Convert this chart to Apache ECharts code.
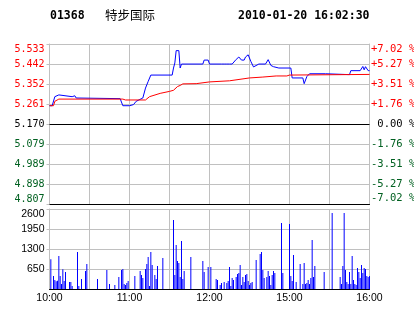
<!DOCTYPE html>
<html><head><meta charset="utf-8">
<script src="https://cdn.jsdelivr.net/npm/echarts@6/dist/echarts.min.js"></script>
<style>html,body{margin:0;padding:0;background:#fff}#c{width:414px;height:314px}</style>
</head><body><div id="c"></div>
<script>
const stockCode = '01368';
const stockName = '特步国际';
const stamp = '2010-01-20 16:02:30';
const prevClose = 5.170;
const priceMin = 4.807, priceMax = 5.533;
const priceTicks = ['4.807','4.898','4.989','5.079','5.170','5.261','5.352','5.442','5.533'];
const pctTicks = ['-7.02 %','-5.27 %','-3.51 %','-1.76 %',' 0.00 %','+1.76 %','+3.51 %','+5.27 %','+7.02 %'];
const volMax = 2600, volStep = 650;
const timeLabels = ['10:00','11:00','12:00','15:00','16:00'];
const gridTimes = ['10:30','11:00','11:30','12:00','12:30','15:00','15:30'];

const priceTimes = ['10:00','10:02','10:04','10:07','10:08','10:17','10:18','10:19','10:20','10:21','10:53','10:55','11:00','11:01','11:03','11:05','11:10','11:12','11:14','11:16','11:32','11:33','11:34','11:35','11:37','11:38','11:39','11:55','11:56','11:59','12:00','12:09','12:10','12:11','12:12','12:13','12:14','12:15','12:17','12:20','12:22','12:24','12:26','12:27','12:29','14:31','14:33','14:34','14:37','14:42','14:44','14:46','14:48','14:52','15:01','15:02','15:10','15:11','15:13','15:15','15:27','15:28','15:45','15:46','15:53','15:55','15:56','15:57','15:59','16:00'];
const priceValues = [5.253,5.253,5.294,5.302,5.294,5.294,5.298,5.298,5.288,5.285,5.285,5.253,5.253,5.258,5.258,5.273,5.288,5.333,5.363,5.392,5.392,5.424,5.447,5.503,5.503,5.424,5.442,5.442,5.460,5.460,5.442,5.442,5.434,5.442,5.434,5.442,5.434,5.442,5.442,5.463,5.474,5.460,5.460,5.474,5.484,5.454,5.429,5.424,5.442,5.442,5.462,5.436,5.430,5.424,5.424,5.379,5.379,5.353,5.385,5.398,5.398,5.394,5.394,5.412,5.412,5.431,5.416,5.430,5.412,5.412];

const avgTimes = ['10:00','10:03','10:04','10:07','10:55','10:57','11:12','11:13','11:15','11:23','11:30','11:33','11:36','11:38','11:40','11:50','12:00','12:15','12:30','14:40','14:50','14:58','15:00','16:00'];
const avgValues = [5.253,5.253,5.273,5.283,5.283,5.279,5.279,5.285,5.294,5.309,5.318,5.323,5.340,5.345,5.352,5.353,5.361,5.366,5.379,5.383,5.388,5.388,5.392,5.395];

const volTimes = ['10:01','10:03','10:04','10:05','10:06','10:07','10:08','10:09','10:10','10:11','10:12','10:15','10:16','10:17','10:21','10:22','10:24','10:27','10:28','10:36','10:43','10:45','10:49','10:52','10:54','10:55','10:56','10:57','10:58','10:59','11:04','11:08','11:09','11:10','11:12','11:13','11:14','11:15','11:16','11:17','11:19','11:20','11:21','11:25','11:33','11:34','11:35','11:36','11:37','11:38','11:39','11:40','11:41','11:46','11:55','11:56','11:59','12:01','12:05','12:06','12:08','12:09','12:11','12:13','12:14','12:15','12:16','12:17','12:18','12:20','12:21','12:22','12:23','12:24','12:25','12:26','12:27','12:28','12:29','12:30','14:31','14:32','14:35','14:38','14:39','14:40','14:41','14:43','14:44','14:45','14:46','14:47','14:48','14:49','14:54','14:55','15:00','15:01','15:02','15:03','15:05','15:08','15:10','15:11','15:12','15:13','15:14','15:15','15:16','15:17','15:18','15:19','15:26','15:32','15:38','15:39','15:40','15:41','15:42','15:43','15:44','15:45','15:46','15:47','15:48','15:49','15:50','15:51','15:52','15:53','15:54','15:55','15:56','15:57','15:58','15:59','16:00'];
const volValues = [965,422,292,250,270,1072,422,162,640,260,552,227,227,97,1202,97,325,585,812,325,617,162,130,390,617,650,162,130,195,260,422,585,455,357,650,812,1040,97,1202,780,455,325,747,1007,2242,455,1430,910,845,390,1560,325,585,1040,910,552,715,715,325,292,130,195,227,195,260,715,97,357,292,390,487,520,780,130,390,227,455,487,260,130,195,227,942,1137,1202,617,357,390,585,422,130,455,585,520,2145,520,2112,422,260,1105,227,812,162,845,162,195,292,162,357,1592,390,747,552,2470,390,162,747,2470,617,227,162,552,162,1072,292,162,130,682,552,357,780,520,682,650,422,390,422];

// trading-minute index: 10:00-12:30 then 14:30-16:00
function toIdx(t){ const p=t.split(':').map(Number); const m=p[0]*60+p[1]; return m<=750 ? m-600 : 150+(m-870); }
function toTime(i){ const m = i<=150 ? 600+i : 870+(i-150); const h=Math.floor(m/60), mm=m%60; return h+':'+(mm<10?'0':'')+mm; }

const pricePts = priceTimes.map((t,k)=>[toIdx(t), priceValues[k]]);
const avgPts = avgTimes.map((t,k)=>[toIdx(t), avgValues[k]]);
const volPts = volTimes.map((t,k)=>[toIdx(t), volValues[k]]);

const GRAY = '#c0c0c0', GREEN = '#006020', RED = '#ff0000';
const vGridPrice = gridTimes.map(t=>[toIdx(t), priceMax]);
const vGridVol = gridTimes.map(t=>[toIdx(t), volMax]);
const chart = echarts.init(document.getElementById('c'), null, {renderer:'canvas'});
function xAxisFor(gi, withLabels){
  return {type:'value', gridIndex:gi, min:0, max:240, interval:30,
    splitLine:{show:true, lineStyle:{color:GRAY, width:1}},
    axisTick:{show:false},
    axisLine:{show:true, onZero:false, lineStyle:{color:'#000', width:1}},
    axisLabel: withLabels ? {show:true, margin:4, color:'#000', fontFamily:'Liberation Sans', fontSize:10.5,
      showMinLabel:true, showMaxLabel:true,
      formatter:function(v){ const t=toTime(v); return timeLabels.indexOf(t)>=0 ? t : ''; }} : {show:false}
  };
}

chart.setOption({
  animation:false,
  backgroundColor:'#fff',
  graphic:[
    {type:'text', x:50, y:16, style:{text:stockCode, font:'bold 11.5px "DejaVu Sans Mono"', fill:'#000', verticalAlign:'middle', align:'left'}},
    {type:'text', x:105, y:15.5, style:{text:stockName, font:'12.5px "Noto Sans CJK SC"', fill:'#000', verticalAlign:'middle', align:'left'}},
    {type:'text', x:238, y:16, style:{text:stamp, font:'bold 11.5px "DejaVu Sans Mono"', fill:'#000', verticalAlign:'middle', align:'left'}}
  ],
  grid:[
    {left:49.5, width:320, top:44, height:160, containLabel:false, outerBoundsMode:'none'},
    {left:49.5, width:320, top:209, height:80, containLabel:false, outerBoundsMode:'none'}
  ],
  xAxis:[ xAxisFor(0,false), xAxisFor(1,true) ],
  yAxis:[
    {type:'value', gridIndex:0, min:priceMin, max:priceMax, axisLine:{show:false}, axisTick:{show:false}, axisLabel:{show:false}, splitLine:{show:false}},
    {type:'category', gridIndex:0, position:'left', boundaryGap:false, data:priceTicks,
      axisLine:{show:true, lineStyle:{color:GRAY}},
      axisTick:{show:true, length:3, interval:0, lineStyle:{color:GRAY}},
      splitLine:{show:true, interval:0, lineStyle:{color:GRAY}},
      axisLabel:{show:true, interval:0, margin:5, fontFamily:'DejaVu Sans Mono', fontSize:10,
        verticalAlignMinLabel:'bottom', verticalAlignMaxLabel:'top',
        color:function(v){ const n=parseFloat(v); return n>prevClose+1e-9?RED:(n<prevClose-1e-9?GREEN:'#000'); }}},
    {type:'category', gridIndex:0, position:'right', boundaryGap:false, data:pctTicks,
      axisLine:{show:true, lineStyle:{color:GRAY}},
      axisTick:{show:false},
      splitLine:{show:false},
      axisLabel:{show:true, interval:0, margin:1.5, align:'left', fontFamily:'DejaVu Sans Mono', fontSize:10.5,
        verticalAlignMinLabel:'bottom', verticalAlignMaxLabel:'top',
        color:function(v){ return v.charAt(0)==='+'?RED:(v.charAt(0)==='-'?GREEN:'#000'); }}},
    {type:'value', gridIndex:1, min:0, max:volMax, interval:volStep,
      axisLine:{show:true, lineStyle:{color:GRAY}},
      axisTick:{show:true, length:3, lineStyle:{color:GRAY}},
      splitLine:{show:true, lineStyle:{color:GRAY}},
      axisLabel:{show:true, margin:5, color:'#000', fontFamily:'Liberation Sans', fontSize:10.5,
        showMinLabel:false, verticalAlignMaxLabel:'top',
        formatter:function(v){ return v===0 ? '' : String(v); }}},
    {type:'value', gridIndex:1, position:'right', min:0, max:volMax, interval:volStep,
      axisLine:{show:true, lineStyle:{color:GRAY}}, axisTick:{show:false}, axisLabel:{show:false}, splitLine:{show:false}}
  ],
  series:[
    {type:'bar', name:'vgrid0', xAxisIndex:0, yAxisIndex:0, data:vGridPrice, barWidth:1, silent:true, z:1,
      itemStyle:{color:GRAY}},
    {type:'line', name:'avg', xAxisIndex:0, yAxisIndex:0, data:avgPts, showSymbol:false, symbol:'none',
      lineStyle:{color:RED, width:1}, z:4,
      markLine:{silent:true, symbol:['none','none'], label:{show:false}, animation:false,
        lineStyle:{color:'#000', width:1, type:'solid'}, data:[{yAxis:prevClose}]}},
    {type:'line', name:'price', xAxisIndex:0, yAxisIndex:0, data:pricePts, showSymbol:false, symbol:'none',
      lineStyle:{color:'#0000ff', width:1}, z:3},
    {type:'bar', name:'vgrid1', xAxisIndex:1, yAxisIndex:3, data:vGridVol, barWidth:1, barGap:'-100%', silent:true, z:1,
      itemStyle:{color:GRAY}},
    {type:'bar', name:'vol', xAxisIndex:1, yAxisIndex:3, data:volPts, barWidth:1, barGap:'-100%',
      itemStyle:{color:'#0000ff'}, z:3}
  ]
});
</script></body></html>
